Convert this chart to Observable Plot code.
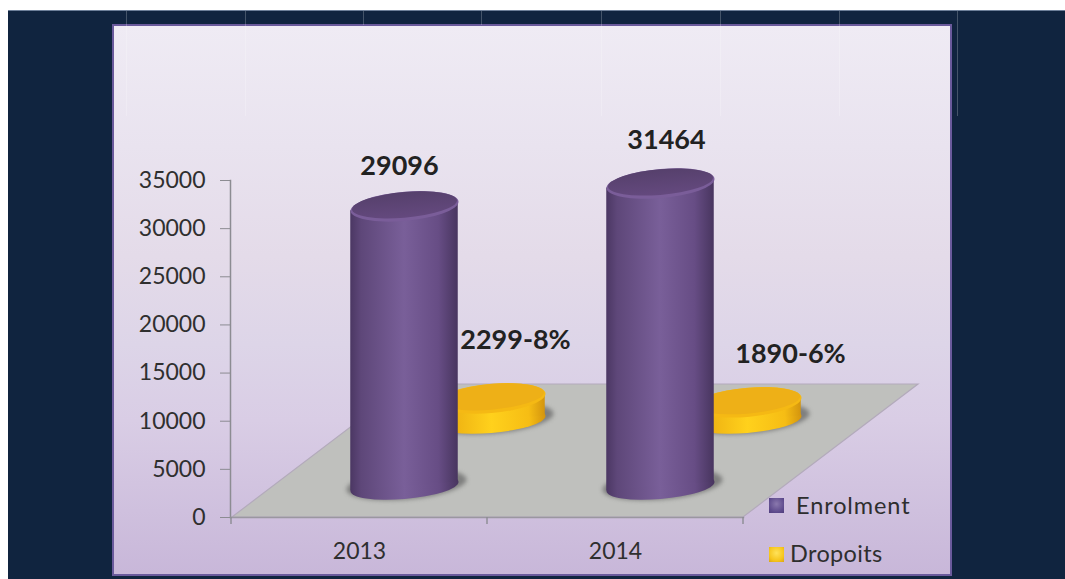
<!DOCTYPE html>
<html>
<head>
<meta charset="utf-8">
<script src="https://cdn.jsdelivr.net/npm/d3@7"></script>
<script src="https://cdn.jsdelivr.net/npm/@observablehq/plot@0.6"></script>
<style>
  html, body { margin: 0; padding: 0; background: #fff; }
  #stage { position: relative; width: 1065px; height: 579px; overflow: hidden; font-family: Lato, sans-serif; }
  #navy { position: absolute; left: 8px; top: 10px; right: 0; bottom: 0; background: #10243f; border-top: 1px solid #6d7f99; }
  #panel {
    position: absolute; left: 112px; top: 24px; width: 836px; height: 548px;
    border: 2px solid #6a5a9c;
    background: linear-gradient(180deg, #efebf4 0%, #e9e3ef 22%, #e4dbe9 42%, #ddd5e8 58%, #d9cde5 72%, #c8b7d9 100%);
  }
  .seam { position: absolute; top: 11px; width: 1px; height: 105px; background: rgba(255,255,255,.22); }
  #chart { position: absolute; left: 0; top: 0; }
  .key { position: absolute; color: #2e2e2e; font-size: 23.5px; line-height: 28px; white-space: nowrap; }
  .swatch { position: absolute; width: 15px; height: 15px; }
</style>
</head>
<body>
<div id="stage">
  <div id="navy"></div>
  <div id="panel"></div>
  <div id="chart"></div>
  <div class="swatch" style="left:769px;top:498px;background:radial-gradient(circle at 50% 40%, #8a78ad 0%, #5d4a8c 70%, #4f3f7c 100%)"></div>
  <div class="key" style="left:796px;top:491px;letter-spacing:.9px">Enrolment</div>
  <div class="swatch" style="left:769px;top:547px;background:radial-gradient(circle at 50% 40%, #ffe25a 0%, #f6c51c 65%, #d9a514 100%)"></div>
  <div class="key" style="left:790px;top:539px;letter-spacing:.35px">Dropoits</div>
</div>
<script>
// Enrolment and dropouts per year
const years = ["2013", "2014"];
const enrolment = [29096, 31464];
const dropouts = [2299, 1890];
const dropoutLabels = ["2299-8%", "1890-6%"];
const yTicks = [0, 5000, 10000, 15000, 20000, 25000, 30000, 35000];

const enrolmentRows = years.map((year, i) => ({year, value: enrolment[i], label: String(enrolment[i])}));
const dropoutRows = years.map((year, i) => ({year, value: dropouts[i], label: dropoutLabels[i]}));

// Oblique projection of the chart's floor
const depthX = 175, depthY = -133;
const radius = 54, topRy = 14.6, baseRy = 12.5, tilt = -4.76;
const frontRow = {dx: 45, dy: -31};
const backRow = {dx: 132, dy: -97};

// Flattens a dot into a tilted ellipse
const flatten = (ratio) => (index, scales, values, dims, ctx, next) => {
  const g = next(index, scales, values, dims, ctx);
  for (const c of g.querySelectorAll("circle")) {
    const cx = +c.getAttribute("cx"), cy = +c.getAttribute("cy");
    c.setAttribute("transform", `translate(${cx} ${cy}) skewY(${tilt}) scale(1 ${ratio}) translate(${-cx} ${-cy})`);
  }
  return g;
};

// Shears a bar so its ends line up with the tilted ellipses
const shear = (index, scales, values, dims, ctx, next) => {
  const g = next(index, scales, values, dims, ctx);
  for (const r of g.querySelectorAll("rect")) {
    const xc = +r.getAttribute("x") + +r.getAttribute("width") / 2;
    r.setAttribute("transform", `translate(${xc} 0) skewY(${tilt}) translate(${-xc} 0)`);
  }
  return g;
};

// Soft contact shadow on the floor
const soften = (index, scales, values, dims, ctx, next) => {
  const g = flatten(0.25)(index, scales, values, dims, ctx, next);
  g.style.filter = "blur(2px)";
  return g;
};

const gradients = () => d3.create("svg:defs").html(`
  <linearGradient id="cylPurple" x1="0" x2="1" y1="0" y2="0">
    <stop offset="0" stop-color="#4b3763"/><stop offset=".1" stop-color="#5e4779"/>
    <stop offset=".5" stop-color="#795f99"/><stop offset=".82" stop-color="#674d85"/>
    <stop offset="1" stop-color="#48355f"/>
  </linearGradient>
  <linearGradient id="discGold" x1="0" x2="1" y1="0" y2="0">
    <stop offset="0" stop-color="#e8a50e"/><stop offset=".5" stop-color="#ffd11c"/>
    <stop offset=".85" stop-color="#f6bd14"/><stop offset="1" stop-color="#d4950e"/>
  </linearGradient>
  <linearGradient id="topPurple" x1="0" x2="0" y1="0" y2="1">
    <stop offset="0" stop-color="#56406c"/><stop offset="1" stop-color="#64497e"/>
  </linearGradient>`).node();

// Grey floor parallelogram and the category boundary ticks
const floor = (index, {x, y}) => {
  const [x0, x1] = x.range();
  const y0 = y(0);
  const g = d3.create("svg:g");
  g.append("polygon")
    .attr("points", [[x0 + 2, y0], [x1, y0], [x1 + depthX, y0 + depthY], [x0 + 2 + depthX, y0 + depthY]].join(" "))
    .attr("fill", "#bfc0bd").attr("stroke", "#b3aabb").attr("stroke-width", 1.2);
  return g.node();
};
const boundaryTicks = (index, {x, y}) => {
  const g = d3.create("svg:g").attr("stroke", "#8c8c92").attr("stroke-width", 1.4);
  const edges = [...x.domain().map((d) => x(d)), x.range()[1]];
  for (const e of edges) {
    g.append("line").attr("x1", e).attr("x2", e).attr("y1", y(0)).attr("y2", y(0) + 7);
  }
  return g.node();
};

function valueLabel(row, dx, dy) {
  return Plot.text([row], {
    x: "year", y: "value", text: "label", dx, dy,
    fontSize: 27, fontWeight: 700, fill: "#222"
  });
}

// One cylinder series: shadow, lower cap, body, rim, top face
function cylinders(rows, {dx, dy}, fill, rim, top) {
  const base = {x: "year", dx, dy};
  return [
    Plot.dot(rows, {...base, dx: dx + 2, dy: dy - 2, y: () => 0, r: radius + 6, fill: "#6a6a6a", fillOpacity: .75, render: soften}),
    Plot.dot(rows, {...base, y: () => 0, r: radius, fill, render: flatten(baseRy / radius)}),
    Plot.barY(rows, {...base, y: "value", fill, insetLeft: 74.25, insetRight: 74.25, render: shear}),
    Plot.dot(rows, {...base, y: "value", r: radius, fill: rim, render: flatten(topRy / radius)}),
    Plot.dot(rows, {...base, dy: dy - 1.5, y: "value", r: radius - 1.5, fill: top, render: flatten((topRy - 1.4) / radius)})
  ];
}

const chart = Plot.plot({
  width: 1065,
  height: 579,
  marginLeft: 230,
  marginRight: 322,
  marginTop: 180,
  marginBottom: 62,
  style: {background: "transparent", fontFamily: "Lato, sans-serif"},
  x: {domain: years, padding: 0, label: null},
  y: {domain: [0, 35000], label: null},
  marks: [
    gradients,
    floor,
    ...cylinders(dropoutRows, backRow, "url(#discGold)", "#f5b914", "#eeb017"),
    ...cylinders(enrolmentRows, frontRow, "url(#cylPurple)", "#7a5d99", "url(#topPurple)"),
    Plot.frame({anchor: "left", stroke: "#8c8c92", strokeWidth: 1.5}),
    Plot.frame({anchor: "bottom", stroke: "#9a97a0", strokeWidth: 1.5}),
    boundaryTicks,
    Plot.axisY({ticks: yTicks, tickFormat: (d) => String(d), tickSize: 10, tickPadding: 15,
      fontSize: 23, color: "#2f2f2f", stroke: "#8c8c92", label: null}),
    Plot.axisX({tickSize: 0, tickPadding: 25, fontSize: 23, color: "#2f2f2f", label: null}),
    valueLabel(enrolmentRows[0], 40, -71),
    valueLabel(enrolmentRows[1], 51, -74),
    valueLabel(dropoutRows[0], 156, -155),
    valueLabel(dropoutRows[1], 175, -145)
  ]
});
document.getElementById("chart").append(chart);

// Thin vertical seams across the top of the slide
const stage = document.getElementById("stage");
for (const left of [126, 245, 363, 481, 601, 720, 839, 957]) {
  const seam = document.createElement("div");
  seam.className = "seam";
  seam.style.left = left + "px";
  if (left === 363 || left === 481) seam.style.height = "14px";
  stage.append(seam);
}
</script>
</body>
</html>
